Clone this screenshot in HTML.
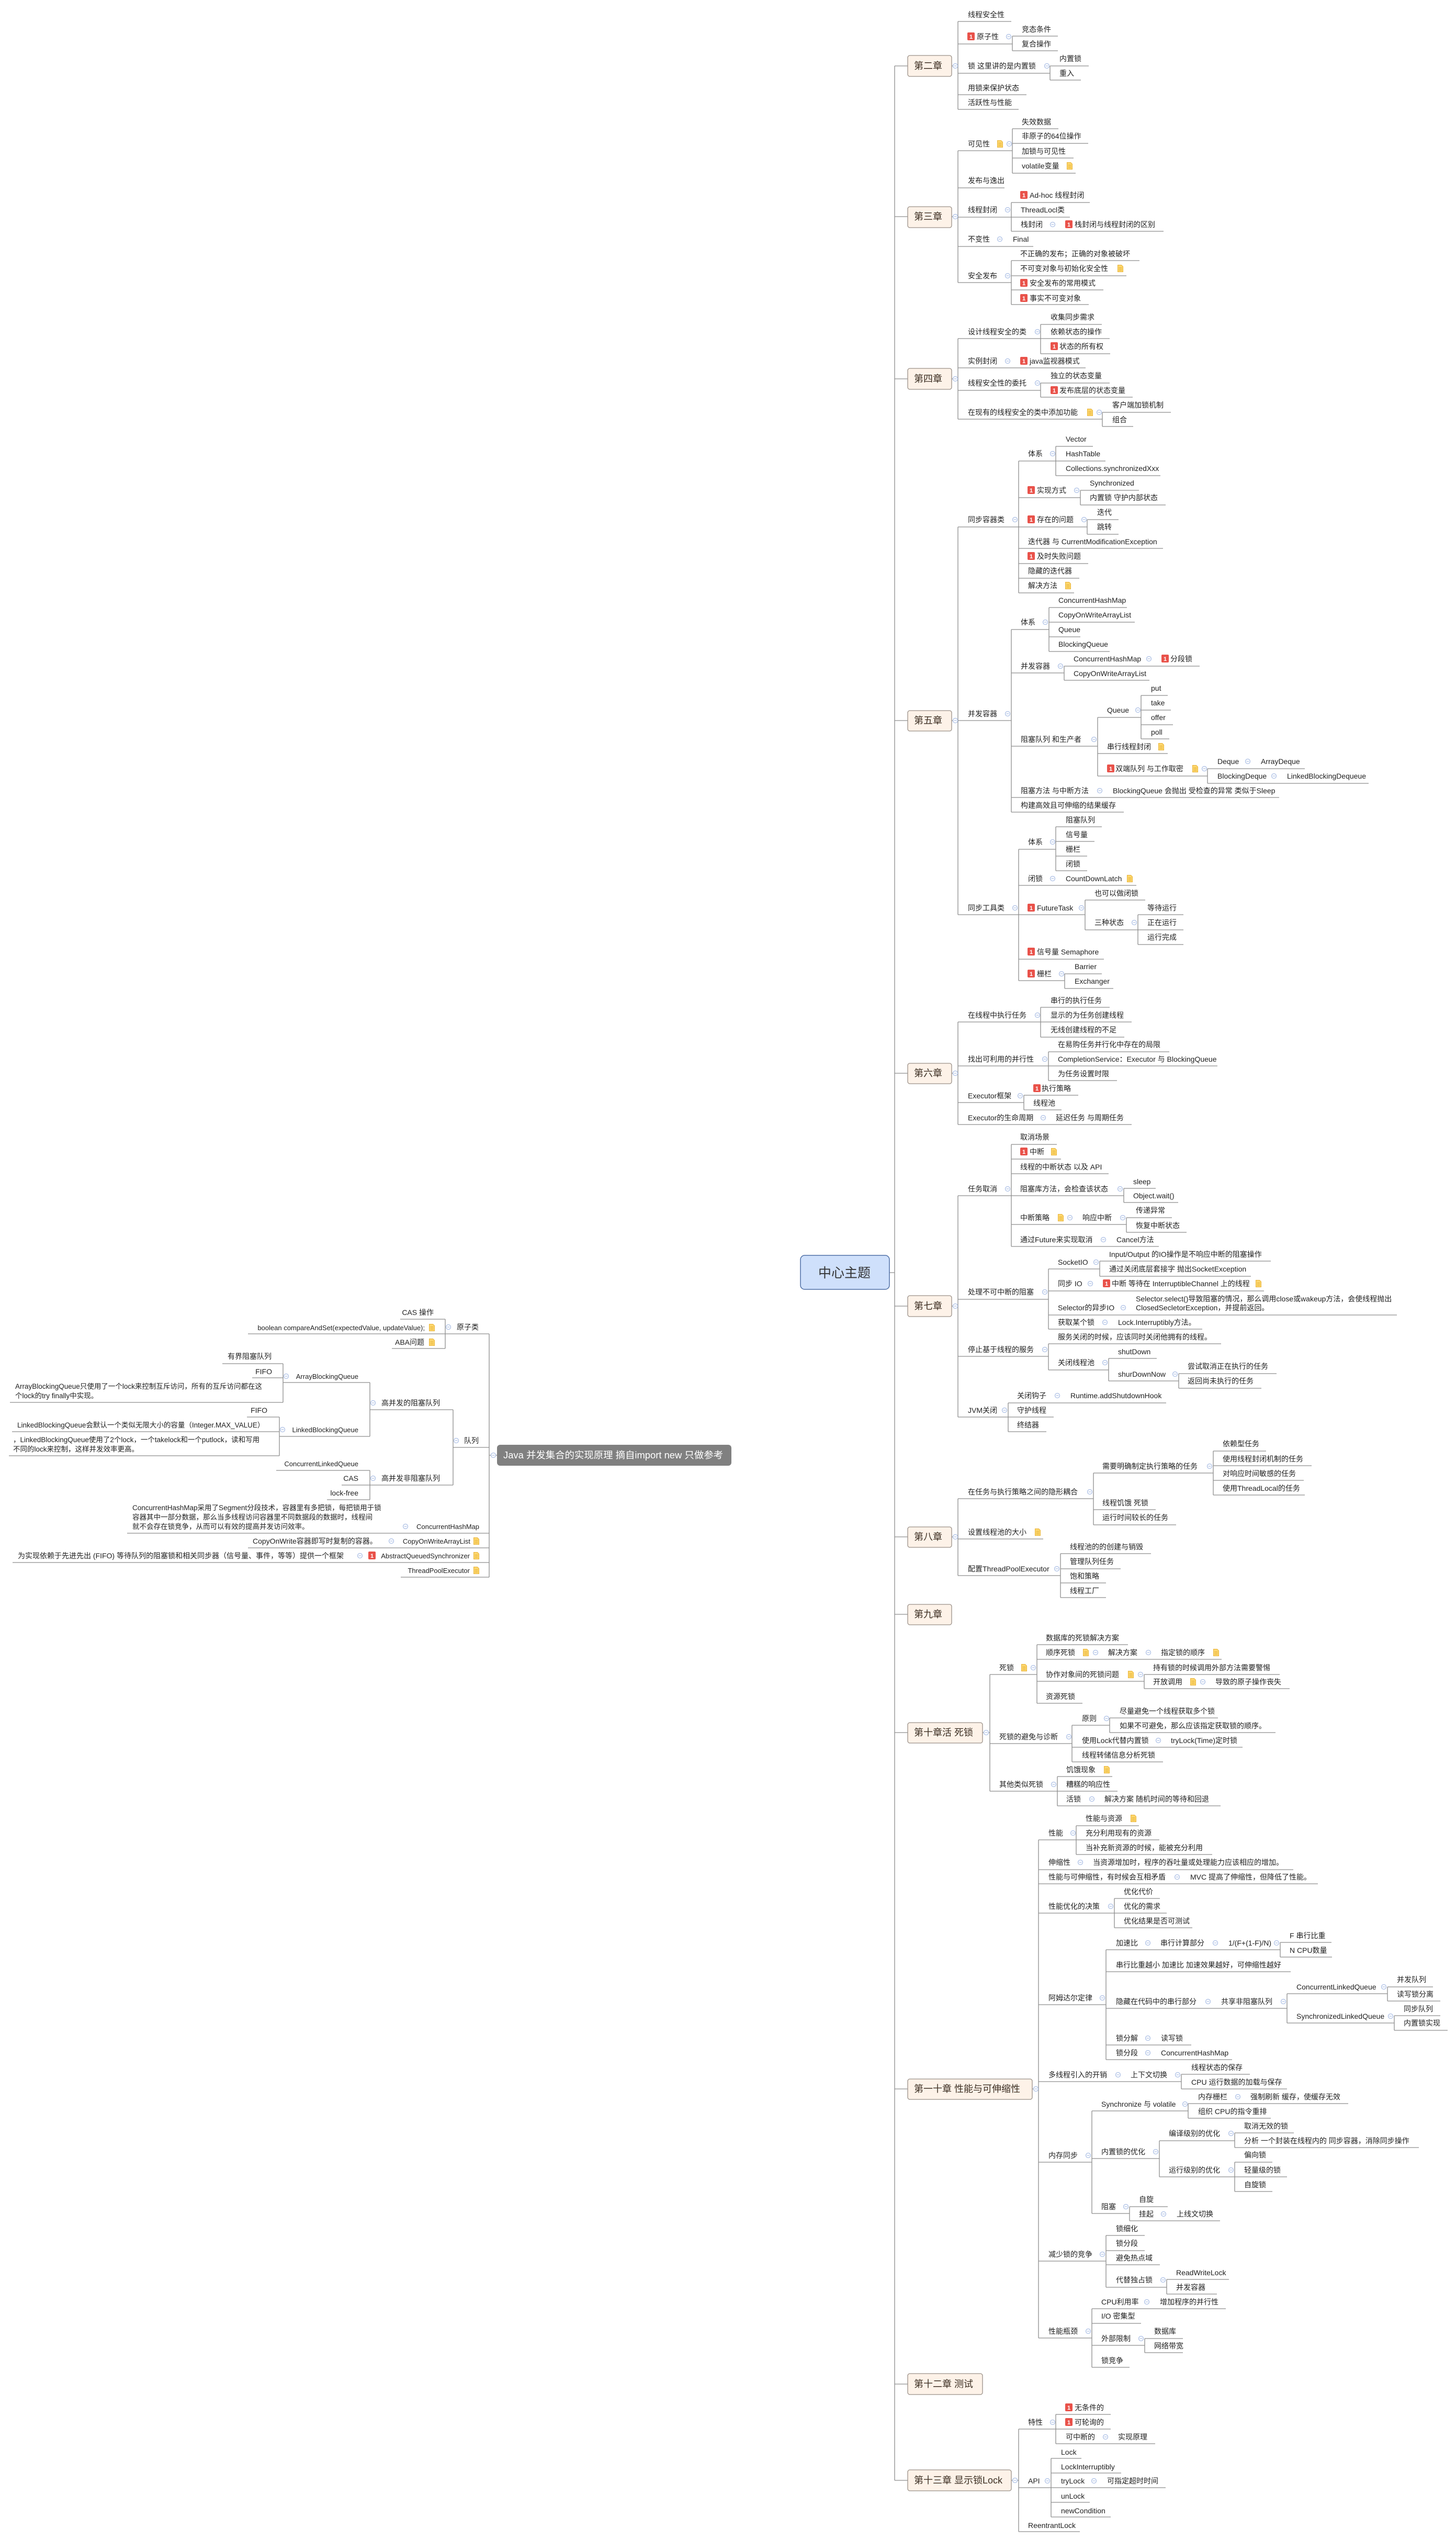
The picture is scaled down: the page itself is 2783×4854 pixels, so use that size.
<!DOCTYPE html>
<html><head><meta charset="utf-8"><title>中心主题</title>
<style>
html,body{margin:0;padding:0;background:#fff;}
svg{display:block;}
svg text{font-family:"Liberation Sans","Noto Sans CJK SC",sans-serif;font-size:14px;fill:#1f1f1f;}
svg text.e{text-anchor:end;}
svg text.h{font-size:18px;fill:#3b2e22;}
svg text.b{font-size:11px;fill:#fff;font-weight:bold;text-anchor:middle;}
svg text.ct{font-size:25px;fill:#333;}
svg text.jv{font-size:18px;fill:#fff;}
.l{stroke:#8d8d8d;stroke-width:1.3;fill:none;}
.bx{fill:#fdf2e8;stroke:#9a9088;stroke-width:1.3;}
.bd{fill:#e9524a;}
</style></head>
<body>
<svg xmlns="http://www.w3.org/2000/svg" xmlns:xlink="http://www.w3.org/1999/xlink" width="2783" height="4854" viewBox="0 0 2783 4854">
<defs>
<g id="n"><path d="M0.5 0.5H7.5L10.5 3.5V13.5H0.5Z" fill="#fcd66c" stroke="#e9b43c"/><path d="M2.5 5.5H8.5M2.5 8H8.5M2.5 10.5H8.5" stroke="#e9b43c" stroke-width="1"/></g>
<g id="c"><circle r="4.5" fill="#fff" stroke="#a9bde4" stroke-width="1.2"/><path d="M-2.5 0H2.5" stroke="#a9bde4" stroke-width="1.2"/></g>
</defs>

<!-- spine -->
<path class="l" d="M1710 126V4740 M1700 2432H1710 M1710 126H1735 M1710 414H1735 M1710 724H1735 M1710 1377H1735 M1710 2051H1735 M1710 2496H1735 M1710 2937H1735 M1710 3085H1735 M1710 3311H1735 M1710 3992H1735 M1710 4556H1735 M1710 4740H1735"/>

<!-- connectors -->
<path class="l" d="M1819 126H1831 M1831 41V209 M1831 41H1933 M1831 84H1935 M1935 69V97 M1935 69H2022 M1935 97H2022 M1831 140H2007 M2007 126V153 M2007 126H2081 M2007 153H2066 M1831 181H1962 M1831 209H1947"/>
<path class="l" d="M1819 414H1831 M1831 288V540 M1831 288H1935 M1935 246V331 M1935 246H2023 M1935 274H2080 M1935 302H2052 M1935 331H2056 M1831 359H1920 M1831 415H1933 M1933 387V442 M1933 387H2083 M1933 415H2045 M1933 442H2224 M1831 471H1975 M1831 540H1933 M1933 498V582 M1933 498H2178 M1933 527H2153 M1933 554H2109 M1933 582H2081"/>
<path class="l" d="M1819 724H1831 M1831 647V801 M1831 647H1989 M1989 620V676 M1989 620H2106 M1989 647H2121 M1989 676H2122 M1831 703H2075 M1831 746H1989 M1989 732V759 M1989 732H2121 M1989 759H2165 M1831 801H2107 M2107 788V815 M2107 788H2238 M2107 815H2166"/>
<path class="l" d="M1819 1377H1831 M1831 1007V1748 M1831 1007H1947 M1947 881V1133 M1947 881H2018 M2018 853V909 M2018 853H2089 M2018 881H2113 M2018 909H2218 M1947 951H2065 M2065 937V965 M2065 937H2177 M2065 965H2228 M1947 1007H2078 M2078 993V1021 M2078 993H2138 M2078 1021H2138 M1947 1048H2223 M1947 1077H2080 M1947 1105H2063 M1947 1133H2053 M1831 1377H1933 M1933 1203V1552 M1933 1203H2005 M2005 1161V1245 M2005 1161H2154 M2005 1189H2169 M2005 1217H2065 M2005 1245H2121 M1933 1286H2034 M2034 1273V1300 M2034 1273H2293 M2034 1300H2197 M1933 1426H2098 M2098 1371V1483 M2098 1371H2181 M2181 1329V1412 M2181 1329H2232 M2181 1357H2238 M2181 1385H2242 M2181 1412H2235 M2098 1440H2232 M2098 1483H2308 M2308 1469V1497 M2308 1469H2494 M2308 1497H2616 M1933 1524H2445 M1933 1552H2148 M1831 1748H1947 M1947 1623V1874 M1947 1623H2018 M2018 1580V1664 M2018 1580H2106 M2018 1608H2092 M2018 1636H2078 M2018 1664H2078 M1947 1692H2172 M1947 1748H2074 M2074 1720V1777 M2074 1720H2189 M2074 1777H2175 M2175 1748V1805 M2175 1748H2262 M2175 1777H2262 M2175 1805H2262 M1947 1833H2110 M1947 1874H2035 M2035 1861V1889 M2035 1861H2106 M2035 1889H2128"/>
<path class="l" d="M1819 2051H1831 M1831 1953V2149 M1831 1953H1989 M1989 1925V1982 M1989 1925H2121 M1989 1953H2163 M1989 1982H2149 M1831 2037H2004 M2004 2010V2065 M2004 2010H2235 M2004 2037H2327 M2004 2065H2135 M1831 2107H1957 M1957 2093V2121 M1957 2093H2061 M1957 2121H2029 M1831 2149H2163"/>
<path class="l" d="M1819 2496H1831 M1831 2285V2708 M1831 2285H1933 M1933 2187V2382 M1933 2187H2020 M1933 2215H2028 M1933 2243H2119 M1933 2285H2148 M2148 2271V2298 M2148 2271H2209 M2148 2298H2252 M1933 2340H2153 M2153 2327V2355 M2153 2327H2240 M2153 2355H2268 M1933 2382H2215 M1831 2483H2004 M2004 2425V2540 M2004 2425H2102 M2102 2410V2439 M2102 2410H2429 M2102 2439H2391 M2004 2467H2416 M2004 2513H2670 M2004 2540H2298 M1831 2592H2004 M2004 2568V2618 M2004 2568H2334 M2004 2618H2119 M2119 2596V2639 M2119 2596H2211 M2119 2639H2253 M2253 2625V2653 M2253 2625H2440 M2253 2653H2411 M1831 2708H1927 M1927 2681V2736 M1927 2681H2229 M1927 2708H2014 M1927 2736H2000"/>
<path class="l" d="M1819 2937H1831 M1831 2864V3011 M1831 2864H2090 M2090 2815V2914 M2090 2815H2319 M2319 2773V2857 M2319 2773H2420 M2319 2801H2507 M2319 2829H2492 M2319 2857H2494 M2090 2885H2209 M2090 2914H2248 M1831 2941H1994 M1831 3011H2027 M2027 2969V3053 M2027 2969H2200 M2027 2998H2142 M2027 3025H2114 M2027 3053H2114"/>
<path class="l" d="M1878 3311H1892 M1892 3200V3423 M1892 3200H1982 M1982 3143V3255 M1982 3143H2156 M1982 3171H2335 M1982 3213H2187 M2187 3200V3227 M2187 3200H2446 M2187 3227H2465 M1982 3255H2069 M1892 3332H2049 M2049 3297V3367 M2049 3297H2121 M2121 3283V3311 M2121 3283H2328 M2121 3311H2438 M2049 3339H2375 M2049 3367H2223 M1892 3423H2021 M2021 3395V3451 M2021 3395H2126 M2021 3423H2136 M2021 3451H2333"/>
<path class="l" d="M1973 3992H1985 M1985 3516V4468 M1985 3516H2057 M2057 3489V3544 M2057 3489H2177 M2057 3516H2216 M2057 3544H2317 M1985 3573H2472 M1985 3600H2519 M1985 3656H2130 M2130 3628V3684 M2130 3628H2217 M2130 3656H2230 M2130 3684H2279 M1985 3831H2114 M2114 3726V3936 M2114 3726H2447 M2447 3712V3740 M2447 3712H2545 M2447 3740H2546 M2114 3768H2467 M2114 3838H2460 M2460 3810V3866 M2460 3810H2652 M2652 3797V3824 M2652 3797H2739 M2652 3824H2753 M2460 3866H2665 M2665 3852V3880 M2665 3852H2753 M2665 3880H2767 M2114 3908H2277 M2114 3936H2355 M1985 3978H2258 M2258 3964V3992 M2258 3964H2389 M2258 3992H2460 M1985 4132H2087 M2087 4034V4230 M2087 4034H2271 M2271 4020V4048 M2271 4020H2577 M2271 4048H2429 M2087 4125H2216 M2216 4091V4160 M2216 4091H2360 M2360 4076V4104 M2360 4076H2473 M2360 4104H2712 M2216 4160H2360 M2360 4132V4188 M2360 4132H2432 M2360 4160H2460 M2360 4188H2432 M2087 4230H2159 M2159 4217V4244 M2159 4217H2232 M2159 4244H2332 M1985 4321H2114 M2114 4272V4371 M2114 4272H2188 M2114 4301H2188 M2114 4328H2217 M2114 4371H2230 M2230 4356V4384 M2230 4356H2349 M2230 4384H2326 M1985 4468H2087 M2087 4412V4524 M2087 4412H2343 M2087 4440H2181 M2087 4482H2188 M2188 4469V4496 M2188 4469H2261 M2188 4496H2261 M2087 4524H2159"/>
<path class="l" d="M1933 4740H1947 M1947 4642V4838 M1947 4642H2018 M2018 4614V4670 M2018 4614H2123 M2018 4642H2123 M2018 4670H2208 M1947 4754H2009 M2009 4698V4810 M2009 4698H2067 M2009 4726H2143 M2009 4754H2228 M2009 4782H2083 M2009 4810H2123 M1947 4838H2064"/>
<path class="l" d="M935 2549V3014 M935 2781H950 M851 2549H935 M851 2521V2577 M765 2521H851 M474 2549H851 M749 2577H851 M866 2766H935 M866 2694V2838 M707 2694H866 M707 2642V2745 M541 2642H707 M541 2606V2680 M425 2606H541 M482 2633H541 M19 2680H541 M534 2745H707 M534 2708V2782 M472 2708H534 M23 2736H534 M17 2782H534 M707 2838H866 M707 2810V2866 M528 2810H707 M653 2838H707 M625 2866H707 M243 2930H935 M474 2958H935 M24 2986H935 M766 3014H935"/>

<!-- central topic -->
<rect x="1530" y="2399" width="170" height="65" rx="8" fill="#cfe0fb" stroke="#4f6fa6" stroke-width="1.5"/>
<text class="ct" x="1564" y="2441">中心主题</text>

<!-- Java floating node -->
<rect x="950" y="2761" width="448" height="40" rx="6" fill="#808080"/>
<text class="jv" x="962" y="2787" textLength="420" lengthAdjust="spacingAndGlyphs">Java 并发集合的实现原理 摘自import new 只做参考</text>

<!-- chapter boxes -->
<rect class="bx" x="1735" y="106" width="84" height="40" rx="4"/><text class="h" x="1747" y="132">第二章</text>
<rect class="bx" x="1735" y="395" width="84" height="40" rx="4"/><text class="h" x="1747" y="420">第三章</text>
<rect class="bx" x="1735" y="704" width="84" height="40" rx="4"/><text class="h" x="1747" y="730">第四章</text>
<rect class="bx" x="1735" y="1358" width="84" height="39" rx="4"/><text class="h" x="1747" y="1383">第五章</text>
<rect class="bx" x="1735" y="2032" width="84" height="39" rx="4"/><text class="h" x="1747" y="2057">第六章</text>
<rect class="bx" x="1735" y="2476" width="84" height="40" rx="4"/><text class="h" x="1747" y="2502">第七章</text>
<rect class="bx" x="1735" y="2918" width="84" height="39" rx="4"/><text class="h" x="1747" y="2943">第八章</text>
<rect class="bx" x="1735" y="3066" width="84" height="39" rx="4"/><text class="h" x="1747" y="3091">第九章</text>
<rect class="bx" x="1735" y="3292" width="143" height="39" rx="4"/><text class="h" x="1747" y="3317">第十章活 死锁</text>
<rect class="bx" x="1735" y="3973" width="238" height="39" rx="4"/><text class="h" x="1747" y="3998">第一十章 性能与可伸缩性</text>
<rect class="bx" x="1735" y="4536" width="143" height="40" rx="4"/><text class="h" x="1747" y="4562">第十二章 测试</text>
<rect class="bx" x="1735" y="4720" width="198" height="40" rx="4"/><text class="h" x="1747" y="4746">第十三章 显示锁Lock</text>

<!-- badges -->
<g>
<rect class="bd" x="1849" y="62" width="14" height="15" rx="2"/><text class="b" x="1856" y="74">1</text>
<rect class="bd" x="1950" y="365" width="14" height="15" rx="2"/><text class="b" x="1957" y="377">1</text>
<rect class="bd" x="2036" y="421" width="14" height="15" rx="2"/><text class="b" x="2043" y="433">1</text>
<rect class="bd" x="1950" y="533" width="14" height="15" rx="2"/><text class="b" x="1957" y="545">1</text>
<rect class="bd" x="1950" y="562" width="14" height="15" rx="2"/><text class="b" x="1957" y="574">1</text>
<rect class="bd" x="2008" y="654" width="14" height="15" rx="2"/><text class="b" x="2015" y="666">1</text>
<rect class="bd" x="1950" y="682" width="14" height="15" rx="2"/><text class="b" x="1957" y="694">1</text>
<rect class="bd" x="2008" y="738" width="14" height="15" rx="2"/><text class="b" x="2015" y="750">1</text>
<rect class="bd" x="1964" y="929" width="14" height="15" rx="2"/><text class="b" x="1971" y="941">1</text>
<rect class="bd" x="1964" y="985" width="14" height="15" rx="2"/><text class="b" x="1971" y="997">1</text>
<rect class="bd" x="1964" y="1055" width="14" height="15" rx="2"/><text class="b" x="1971" y="1067">1</text>
<rect class="bd" x="2220" y="1251" width="14" height="15" rx="2"/><text class="b" x="2227" y="1263">1</text>
<rect class="bd" x="2116" y="1461" width="14" height="15" rx="2"/><text class="b" x="2123" y="1473">1</text>
<rect class="bd" x="1964" y="1727" width="14" height="15" rx="2"/><text class="b" x="1971" y="1739">1</text>
<rect class="bd" x="1964" y="1811" width="14" height="15" rx="2"/><text class="b" x="1971" y="1823">1</text>
<rect class="bd" x="1964" y="1853" width="14" height="15" rx="2"/><text class="b" x="1971" y="1865">1</text>
<rect class="bd" x="1975" y="2072" width="14" height="15" rx="2"/><text class="b" x="1982" y="2084">1</text>
<rect class="bd" x="1950" y="2193" width="14" height="15" rx="2"/><text class="b" x="1957" y="2205">1</text>
<rect class="bd" x="2108" y="2445" width="14" height="15" rx="2"/><text class="b" x="2115" y="2457">1</text>
<rect class="bd" x="2036" y="4593" width="14" height="15" rx="2"/><text class="b" x="2043" y="4605">1</text>
<rect class="bd" x="2036" y="4621" width="14" height="15" rx="2"/><text class="b" x="2043" y="4633">1</text>
<rect class="bd" x="704" y="2965" width="14" height="15" rx="2"/><text class="b" x="711" y="2977">1</text>
</g>

<!-- notes -->
<use xlink:href="#n" x="1906" y="268"/><use xlink:href="#n" x="2039" y="310"/><use xlink:href="#n" x="2136" y="506"/><use xlink:href="#n" x="2078" y="781"/>
<use xlink:href="#n" x="2036" y="1112"/><use xlink:href="#n" x="2214" y="1420"/><use xlink:href="#n" x="2279" y="1462"/><use xlink:href="#n" x="2154" y="1672"/>
<use xlink:href="#n" x="2009" y="2194"/><use xlink:href="#n" x="2022" y="2320"/><use xlink:href="#n" x="2400" y="2446"/><use xlink:href="#n" x="1978" y="2921"/>
<use xlink:href="#n" x="1952" y="3180"/><use xlink:href="#n" x="2070" y="3151"/><use xlink:href="#n" x="2319" y="3151"/><use xlink:href="#n" x="2156" y="3193"/>
<use xlink:href="#n" x="2275" y="3207"/><use xlink:href="#n" x="2110" y="3375"/><use xlink:href="#n" x="2161" y="3468"/>
<use xlink:href="#n" x="820" y="2530"/><use xlink:href="#n" x="820" y="2558"/><use xlink:href="#n" x="905" y="2938"/><use xlink:href="#n" x="905" y="2966"/><use xlink:href="#n" x="905" y="2994"/>

<!-- collapse markers -->
<use xlink:href="#c" x="1826" y="126"/><use xlink:href="#c" x="1928" y="70"/><use xlink:href="#c" x="2001" y="126"/>
<use xlink:href="#c" x="1826" y="414"/><use xlink:href="#c" x="1929" y="275"/><use xlink:href="#c" x="1926" y="401"/><use xlink:href="#c" x="2012" y="429"/><use xlink:href="#c" x="1911" y="457"/><use xlink:href="#c" x="1926" y="527"/>
<use xlink:href="#c" x="1826" y="724"/><use xlink:href="#c" x="1983" y="634"/><use xlink:href="#c" x="1926" y="690"/><use xlink:href="#c" x="1983" y="732"/><use xlink:href="#c" x="2101" y="788"/>
<use xlink:href="#c" x="1826" y="1377"/><use xlink:href="#c" x="1940" y="993"/><use xlink:href="#c" x="2012" y="867"/><use xlink:href="#c" x="2058" y="937"/><use xlink:href="#c" x="2072" y="993"/><use xlink:href="#c" x="1926" y="1364"/><use xlink:href="#c" x="1998" y="1189"/><use xlink:href="#c" x="2027" y="1273"/><use xlink:href="#c" x="2196" y="1259"/><use xlink:href="#c" x="2091" y="1413"/><use xlink:href="#c" x="2175" y="1357"/><use xlink:href="#c" x="2302" y="1469"/><use xlink:href="#c" x="2385" y="1455"/><use xlink:href="#c" x="2435" y="1483"/><use xlink:href="#c" x="2102" y="1511"/><use xlink:href="#c" x="1940" y="1735"/><use xlink:href="#c" x="2012" y="1609"/><use xlink:href="#c" x="2012" y="1679"/><use xlink:href="#c" x="2067" y="1735"/><use xlink:href="#c" x="2168" y="1763"/><use xlink:href="#c" x="2029" y="1861"/>
<use xlink:href="#c" x="1826" y="2051"/><use xlink:href="#c" x="1983" y="1940"/><use xlink:href="#c" x="1997" y="2024"/><use xlink:href="#c" x="1950" y="2094"/><use xlink:href="#c" x="1994" y="2136"/>
<use xlink:href="#c" x="1826" y="2496"/><use xlink:href="#c" x="1926" y="2272"/><use xlink:href="#c" x="2141" y="2272"/><use xlink:href="#c" x="2045" y="2327"/><use xlink:href="#c" x="2146" y="2327"/><use xlink:href="#c" x="2109" y="2369"/><use xlink:href="#c" x="1997" y="2469"/><use xlink:href="#c" x="2095" y="2412"/><use xlink:href="#c" x="2084" y="2453"/><use xlink:href="#c" x="2147" y="2499"/><use xlink:href="#c" x="2112" y="2527"/><use xlink:href="#c" x="1997" y="2579"/><use xlink:href="#c" x="2112" y="2604"/><use xlink:href="#c" x="2246" y="2626"/><use xlink:href="#c" x="1920" y="2695"/><use xlink:href="#c" x="2021" y="2667"/>
<use xlink:href="#c" x="1826" y="2937"/><use xlink:href="#c" x="2083" y="2851"/><use xlink:href="#c" x="2312" y="2802"/><use xlink:href="#c" x="2020" y="2998"/>
<use xlink:href="#c" x="1885" y="3311"/><use xlink:href="#c" x="1975" y="3187"/><use xlink:href="#c" x="2094" y="3158"/><use xlink:href="#c" x="2195" y="3158"/><use xlink:href="#c" x="2180" y="3200"/><use xlink:href="#c" x="2299" y="3214"/><use xlink:href="#c" x="2043" y="3319"/><use xlink:href="#c" x="2115" y="3284"/><use xlink:href="#c" x="2214" y="3326"/><use xlink:href="#c" x="2014" y="3410"/><use xlink:href="#c" x="2087" y="3438"/>
<use xlink:href="#c" x="1980" y="3992"/><use xlink:href="#c" x="2051" y="3503"/><use xlink:href="#c" x="2065" y="3559"/><use xlink:href="#c" x="2250" y="3587"/><use xlink:href="#c" x="2123" y="3643"/><use xlink:href="#c" x="2107" y="3818"/><use xlink:href="#c" x="2194" y="3713"/><use xlink:href="#c" x="2323" y="3713"/><use xlink:href="#c" x="2440" y="3713"/><use xlink:href="#c" x="2309" y="3825"/><use xlink:href="#c" x="2453" y="3825"/><use xlink:href="#c" x="2645" y="3797"/><use xlink:href="#c" x="2658" y="3853"/><use xlink:href="#c" x="2194" y="3895"/><use xlink:href="#c" x="2194" y="3923"/><use xlink:href="#c" x="2137" y="3965"/><use xlink:href="#c" x="2251" y="3965"/><use xlink:href="#c" x="2080" y="4119"/><use xlink:href="#c" x="2265" y="4021"/><use xlink:href="#c" x="2366" y="4007"/><use xlink:href="#c" x="2209" y="4112"/><use xlink:href="#c" x="2353" y="4077"/><use xlink:href="#c" x="2353" y="4147"/><use xlink:href="#c" x="2152" y="4217"/><use xlink:href="#c" x="2224" y="4231"/><use xlink:href="#c" x="2107" y="4308"/><use xlink:href="#c" x="2223" y="4357"/><use xlink:href="#c" x="2080" y="4455"/><use xlink:href="#c" x="2192" y="4399"/><use xlink:href="#c" x="2181" y="4469"/>
<use xlink:href="#c" x="1940" y="4740"/><use xlink:href="#c" x="2012" y="4629"/><use xlink:href="#c" x="2113" y="4657"/><use xlink:href="#c" x="2002" y="4741"/><use xlink:href="#c" x="2091" y="4741"/>
<use xlink:href="#c" x="943" y="2781"/><use xlink:href="#c" x="857" y="2536"/><use xlink:href="#c" x="872" y="2753"/><use xlink:href="#c" x="713" y="2681"/><use xlink:href="#c" x="547" y="2630"/><use xlink:href="#c" x="540" y="2732"/><use xlink:href="#c" x="713" y="2825"/><use xlink:href="#c" x="775" y="2917"/><use xlink:href="#c" x="748" y="2945"/><use xlink:href="#c" x="688" y="2973"/>

<!-- 第二章 -->
<text x="1850" y="33">线程安全性</text>
<text x="1867" y="75">原子性</text>
<text x="1953" y="61">竞态条件</text>
<text x="1953" y="89">复合操作</text>
<text x="1850" y="131">锁 这里讲的是内置锁</text>
<text x="2025" y="117">内置锁</text>
<text x="2025" y="145">重入</text>
<text x="1850" y="173">用锁来保护状态</text>
<text x="1850" y="201">活跃性与性能</text>

<!-- 第三章 -->
<text x="1850" y="280">可见性</text>
<text x="1953" y="238">失效数据</text>
<text x="1953" y="265">非原子的64位操作</text>
<text x="1953" y="294">加锁与可见性</text>
<text x="1953" y="322">volatile变量</text>
<text x="1850" y="350">发布与逸出</text>
<text x="1850" y="406">线程封闭</text>
<text x="1968" y="378">Ad-hoc 线程封闭</text>
<text x="1951" y="406">ThreadLocl类</text>
<text x="1951" y="434">栈封闭</text>
<text x="2054" y="434">栈封闭与线程封闭的区别</text>
<text x="1850" y="462">不变性</text>
<text x="1936" y="462">Final</text>
<text x="1850" y="532">安全发布</text>
<text x="1950" y="490">不正确的发布；正确的对象被破坏</text>
<text x="1950" y="518">不可变对象与初始化安全性</text>
<text x="1968" y="546">安全发布的常用模式</text>
<text x="1968" y="575">事实不可变对象</text>

<!-- 第四章 -->
<text x="1850" y="639">设计线程安全的类</text>
<text x="2008" y="611">收集同步需求</text>
<text x="2008" y="639">依赖状态的操作</text>
<text x="2025" y="667">状态的所有权</text>
<text x="1850" y="695">实例封闭</text>
<text x="1968" y="695">java监视器模式</text>
<text x="1850" y="737">线程安全性的委托</text>
<text x="2008" y="723">独立的状态变量</text>
<text x="2025" y="751">发布底层的状态变量</text>
<text x="1850" y="793">在现有的线程安全的类中添加功能</text>
<text x="2126" y="779">客户端加锁机制</text>
<text x="2126" y="807">组合</text>

<!-- 第五章 -->
<text x="1850" y="998">同步容器类</text>
<text x="1965" y="872">体系</text>
<text x="2037" y="844">Vector</text>
<text x="2037" y="872">HashTable</text>
<text x="2037" y="900">Collections.synchronizedXxx</text>
<text x="1982" y="942">实现方式</text>
<text x="2083" y="928">Synchronized</text>
<text x="2083" y="956">内置锁 守护内部状态</text>
<text x="1982" y="998">存在的问题</text>
<text x="2097" y="984">迭代</text>
<text x="2097" y="1012">跳转</text>
<text x="1965" y="1040">迭代器 与 CurrentModificationException</text>
<text x="1982" y="1068">及时失败问题</text>
<text x="1965" y="1096">隐藏的迭代器</text>
<text x="1965" y="1124">解决方法</text>
<text x="1850" y="1369">并发容器</text>
<text x="1951" y="1194">体系</text>
<text x="2023" y="1152">ConcurrentHashMap</text>
<text x="2023" y="1180">CopyOnWriteArrayList</text>
<text x="2023" y="1208">Queue</text>
<text x="2023" y="1236">BlockingQueue</text>
<text x="1951" y="1278">并发容器</text>
<text x="2052" y="1264">ConcurrentHashMap</text>
<text x="2237" y="1264">分段锁</text>
<text x="2052" y="1292">CopyOnWriteArrayList</text>
<text x="1951" y="1418">阻塞队列 和生产者</text>
<text x="2116" y="1362">Queue</text>
<text x="2200" y="1320">put</text>
<text x="2200" y="1348">take</text>
<text x="2200" y="1376">offer</text>
<text x="2200" y="1404">poll</text>
<text x="2116" y="1432">串行线程封闭</text>
<text x="2132" y="1474">双端队列 与工作取密</text>
<text x="2327" y="1460">Deque</text>
<text x="2410" y="1460">ArrayDeque</text>
<text x="2327" y="1488">BlockingDeque</text>
<text x="2460" y="1488">LinkedBlockingDequeue</text>
<text x="1951" y="1516">阻塞方法 与中断方法</text>
<text x="2127" y="1516">BlockingQueue 会抛出 受检查的异常 类似于Sleep</text>
<text x="1951" y="1544">构建高效且可伸缩的结果缓存</text>
<text x="1850" y="1740">同步工具类</text>
<text x="1965" y="1614">体系</text>
<text x="2037" y="1572">阻塞队列</text>
<text x="2037" y="1600">信号量</text>
<text x="2037" y="1628">栅栏</text>
<text x="2037" y="1656">闭锁</text>
<text x="1965" y="1684">闭锁</text>
<text x="2037" y="1684">CountDownLatch</text>
<text x="1982" y="1740">FutureTask</text>
<text x="2092" y="1712">也可以做闭锁</text>
<text x="2092" y="1768">三种状态</text>
<text x="2193" y="1740">等待运行</text>
<text x="2193" y="1768">正在运行</text>
<text x="2193" y="1796">运行完成</text>
<text x="1982" y="1824">信号量 Semaphore</text>
<text x="1982" y="1866">栅栏</text>
<text x="2054" y="1852">Barrier</text>
<text x="2054" y="1880">Exchanger</text>

<!-- 第六章 -->
<text x="1850" y="1945">在线程中执行任务</text>
<text x="2008" y="1917">串行的执行任务</text>
<text x="2008" y="1945">显示的为任务创建线程</text>
<text x="2008" y="1973">无线创建线程的不足</text>
<text x="1850" y="2029">找出可利用的并行性</text>
<text x="2022" y="2001">在易购任务并行化中存在的局限</text>
<text x="2022" y="2029">CompletionService：Executor 与 BlockingQueue</text>
<text x="2022" y="2057">为任务设置时限</text>
<text x="1850" y="2099">Executor框架</text>
<text x="1991" y="2085">执行策略</text>
<text x="1975" y="2113">线程池</text>
<text x="1850" y="2141">Executor的生命周期</text>
<text x="2018" y="2141">延迟任务 与周期任务</text>

<!-- 第七章 -->
<text x="1850" y="2277">任务取消</text>
<text x="1950" y="2178">取消场景</text>
<text x="1968" y="2206">中断</text>
<text x="1950" y="2235">线程的中断状态 以及 API</text>
<text x="1950" y="2277">阻塞库方法，会检查该状态</text>
<text x="2166" y="2263">sleep</text>
<text x="2166" y="2290">Object.wait()</text>
<text x="1950" y="2332">中断策略</text>
<text x="2069" y="2332">响应中断</text>
<text x="2171" y="2318">传递异常</text>
<text x="2171" y="2347">恢复中断状态</text>
<text x="1950" y="2374">通过Future来实现取消</text>
<text x="2134" y="2374">Cancel方法</text>
<text x="1850" y="2474">处理不可中断的阻塞</text>
<text x="2022" y="2417">SocketIO</text>
<text x="2120" y="2402">Input/Output 的IO操作是不响应中断的阻塞操作</text>
<text x="2120" y="2430">通过关闭底层套接字 抛出SocketException</text>
<text x="2022" y="2458">同步 IO</text>
<text x="2125" y="2458">中断 等待在 InterruptibleChannel 上的线程</text>
<text x="2022" y="2504">Selector的异步IO</text>
<text x="2171" y="2487">Selector.select()导致阻塞的情况，那么调用close或wakeup方法，会使线程抛出</text>
<text x="2171" y="2504">ClosedSecletorException，并提前返回。</text>
<text x="2022" y="2532">获取某个锁</text>
<text x="2137" y="2532">Lock.Interruptibly方法。</text>
<text x="1850" y="2584">停止基于线程的服务</text>
<text x="2022" y="2560">服务关闭的时候，应该同时关闭他拥有的线程。</text>
<text x="2022" y="2609">关闭线程池</text>
<text x="2137" y="2588">shutDown</text>
<text x="2137" y="2631">shurDownNow</text>
<text x="2270" y="2616">尝试取消正在执行的任务</text>
<text x="2270" y="2644">返回尚未执行的任务</text>
<text x="1850" y="2700">JVM关闭</text>
<text x="1944" y="2672">关闭钩子</text>
<text x="2046" y="2672">Runtime.addShutdownHook</text>
<text x="1944" y="2700">守护线程</text>
<text x="1944" y="2728">终结器</text>

<!-- 第八章 -->
<text x="1850" y="2856">在任务与执行策略之间的隐形耦合</text>
<text x="2107" y="2807">需要明确制定执行策略的任务</text>
<text x="2337" y="2764">依赖型任务</text>
<text x="2337" y="2793">使用线程封闭机制的任务</text>
<text x="2337" y="2821">对响应时间敏感的任务</text>
<text x="2337" y="2849">使用ThreadLocal的任务</text>
<text x="2107" y="2877">线程饥饿 死锁</text>
<text x="2107" y="2905">运行时间较长的任务</text>
<text x="1850" y="2933">设置线程池的大小</text>
<text x="1850" y="3003">配置ThreadPoolExecutor</text>
<text x="2045" y="2961">线程池的的创建与销毁</text>
<text x="2045" y="2989">管理队列任务</text>
<text x="2045" y="3017">饱和策略</text>
<text x="2045" y="3045">线程工厂</text>

<!-- 第十章 -->
<text x="1910" y="3192">死锁</text>
<text x="1999" y="3135">数据库的死锁解决方案</text>
<text x="1999" y="3163">顺序死锁</text>
<text x="2118" y="3163">解决方案</text>
<text x="2219" y="3163">指定锁的顺序</text>
<text x="1999" y="3205">协作对象间的死锁问题</text>
<text x="2204" y="3192">持有锁的时候调用外部方法需要警惕</text>
<text x="2204" y="3219">开放调用</text>
<text x="2323" y="3219">导致的原子操作丧失</text>
<text x="1999" y="3247">资源死锁</text>
<text x="1910" y="3324">死锁的避免与诊断</text>
<text x="2068" y="3289">原则</text>
<text x="2140" y="3275">尽量避免一个线程获取多个锁</text>
<text x="2140" y="3303">如果不可避免，那么应该指定获取锁的顺序。</text>
<text x="2068" y="3331">使用Lock代替内置锁</text>
<text x="2238" y="3331">tryLock(Time)定时锁</text>
<text x="2068" y="3359">线程转储信息分析死锁</text>
<text x="1910" y="3415">其他类似死锁</text>
<text x="2038" y="3387">饥饿现象</text>
<text x="2038" y="3415">糟糕的响应性</text>
<text x="2038" y="3443">活锁</text>
<text x="2111" y="3443">解决方案  随机时间的等待和回退</text>

<!-- 第十一章 -->
<text x="2004" y="3508">性能</text>
<text x="2075" y="3480">性能与资源</text>
<text x="2075" y="3508">充分利用现有的资源</text>
<text x="2075" y="3536">当补充新资源的时候，能被充分利用</text>
<text x="2004" y="3564">伸缩性</text>
<text x="2089" y="3564">当资源增加时，程序的吞吐量或处理能力应该相应的增加。</text>
<text x="2004" y="3592">性能与可伸缩性，有时候会互相矛盾</text>
<text x="2275" y="3592">MVC 提高了伸缩性，但降低了性能。</text>
<text x="2004" y="3648">性能优化的决策</text>
<text x="2148" y="3620">优化代价</text>
<text x="2148" y="3648">优化的需求</text>
<text x="2148" y="3676">优化结果是否可测试</text>
<text x="2004" y="3823">阿姆达尔定律</text>
<text x="2133" y="3718">加速比</text>
<text x="2218" y="3718">串行计算部分</text>
<text x="2348" y="3718">1/(F+(1-F)/N)</text>
<text x="2465" y="3704">F 串行比重</text>
<text x="2465" y="3732">N CPU数量</text>
<text x="2133" y="3760">串行比重越小 加速比 加速效果越好，可伸缩性越好</text>
<text x="2133" y="3830">隐藏在代码中的串行部分</text>
<text x="2334" y="3830">共享非阻塞队列</text>
<text x="2478" y="3802">ConcurrentLinkedQueue</text>
<text x="2670" y="3788">并发队列</text>
<text x="2670" y="3816">读写锁分离</text>
<text x="2478" y="3858">SynchronizedLinkedQueue</text>
<text x="2683" y="3844">同步队列</text>
<text x="2683" y="3871">内置锁实现</text>
<text x="2133" y="3900">锁分解</text>
<text x="2219" y="3900">读写锁</text>
<text x="2133" y="3928">锁分段</text>
<text x="2219" y="3928">ConcurrentHashMap</text>
<text x="2004" y="3970">多线程引入的开销</text>
<text x="2161" y="3970">上下文切换</text>
<text x="2277" y="3956">线程状态的保存</text>
<text x="2277" y="3984">CPU 运行数据的加载与保存</text>
<text x="2004" y="4124">内存同步</text>
<text x="2105" y="4026">Synchronize 与 volatile</text>
<text x="2290" y="4012">内存栅栏</text>
<text x="2390" y="4012">强制刷新 缓存，使缓存无效</text>
<text x="2290" y="4040">组织 CPU的指令重排</text>
<text x="2105" y="4117">内置锁的优化</text>
<text x="2234" y="4082">编译级别的优化</text>
<text x="2378" y="4068">取消无效的锁</text>
<text x="2378" y="4096">分析 一个封装在线程内的 同步容器，消除同步操作</text>
<text x="2234" y="4152">运行级别的优化</text>
<text x="2378" y="4123">偏向锁</text>
<text x="2378" y="4152">轻量级的锁</text>
<text x="2378" y="4180">自旋锁</text>
<text x="2105" y="4222">阻塞</text>
<text x="2177" y="4208">自旋</text>
<text x="2177" y="4236">挂起</text>
<text x="2249" y="4236">上线文切换</text>
<text x="2004" y="4313">减少锁的竞争</text>
<text x="2133" y="4264">锁细化</text>
<text x="2133" y="4292">锁分段</text>
<text x="2133" y="4320">避免热点域</text>
<text x="2133" y="4362">代替独占锁</text>
<text x="2248" y="4348">ReadWriteLock</text>
<text x="2248" y="4376">并发容器</text>
<text x="2004" y="4460">性能瓶颈</text>
<text x="2105" y="4404">CPU利用率</text>
<text x="2217" y="4404">增加程序的并行性</text>
<text x="2105" y="4431">I/O 密集型</text>
<text x="2105" y="4474">外部限制</text>
<text x="2206" y="4460">数据库</text>
<text x="2206" y="4488">网络带宽</text>
<text x="2105" y="4516">锁竞争</text>

<!-- 第十三章 -->
<text x="1965" y="4634">特性</text>
<text x="2054" y="4606">无条件的</text>
<text x="2054" y="4634">可轮询的</text>
<text x="2037" y="4662">可中断的</text>
<text x="2137" y="4662">实现原理</text>
<text x="1965" y="4746">API</text>
<text x="2028" y="4691">Lock</text>
<text x="2028" y="4719">LockInterruptibly</text>
<text x="2028" y="4746">tryLock</text>
<text x="2116" y="4746">可指定超时时间</text>
<text x="2028" y="4775">unLock</text>
<text x="2028" y="4803">newCondition</text>
<text x="1965" y="4831">ReentrantLock</text>

<!-- left side -->
<text class="e" x="915" y="2541">原子类</text>
<text class="e" x="829" y="2513">CAS 操作</text>
<text class="e" x="812" y="2542" style="font-size:13px">boolean compareAndSet(expectedValue, updateValue);</text>
<text class="e" x="811" y="2570">ABA问题</text>
<text class="e" x="915" y="2758">队列</text>
<text class="e" x="841" y="2686">高并发的阻塞队列</text>
<text class="e" x="685" y="2635" style="font-size:13px">ArrayBlockingQueue</text>
<text class="e" x="519" y="2597">有界阻塞队列</text>
<text class="e" x="520" y="2626">FIFO</text>
<text x="29" y="2654" style="font-size:13.5px">ArrayBlockingQueue只使用了一个lock来控制互斥访问，所有的互斥访问都在这</text>
<text x="29" y="2672" style="font-size:13.5px">个lock的try finally中实现。</text>
<text class="e" x="685" y="2737" style="font-size:13px">LinkedBlockingQueue</text>
<text class="e" x="511" y="2700">FIFO</text>
<text x="33" y="2728" style="font-size:13.5px">LinkedBlockingQueue会默认一个类似无限大小的容量（Integer.MAX_VALUE）</text>
<text x="25" y="2756" style="font-size:13.5px">，LinkedBlockingQueue使用了2个lock，一个takelock和一个putlock，读和写用</text>
<text x="25" y="2774" style="font-size:13.5px">不同的lock来控制，这样并发效率更高。</text>
<text class="e" x="841" y="2830">高并发非阻塞队列</text>
<text class="e" x="685" y="2802" style="font-size:13px">ConcurrentLinkedQueue</text>
<text class="e" x="685" y="2830">CAS</text>
<text class="e" x="685" y="2858">lock-free</text>
<text class="e" x="916" y="2922" style="font-size:13px">ConcurrentHashMap</text>
<text x="253" y="2886" style="font-size:13.5px">ConcurrentHashMap采用了Segment分段技术，容器里有多把锁，每把锁用于锁</text>
<text x="253" y="2904" style="font-size:13.5px">容器其中一部分数据，那么当多线程访问容器里不同数据段的数据时，线程间</text>
<text x="253" y="2922" style="font-size:13.5px">就不会存在锁竞争，从而可以有效的提高并发访问效率。</text>
<text class="e" x="899" y="2950" style="font-size:13px">CopyOnWriteArrayList</text>
<text x="483" y="2950">CopyOnWrite容器即写时复制的容器。</text>
<text class="e" x="898" y="2978" style="font-size:13px">AbstractQueuedSynchronizer</text>
<text x="34" y="2978">为实现依赖于先进先出 (FIFO) 等待队列的阻塞锁和相关同步器（信号量、事件，等等）提供一个框架</text>
<text class="e" x="898" y="3006" style="font-size:13px">ThreadPoolExecutor</text>
</svg>
</body></html>
